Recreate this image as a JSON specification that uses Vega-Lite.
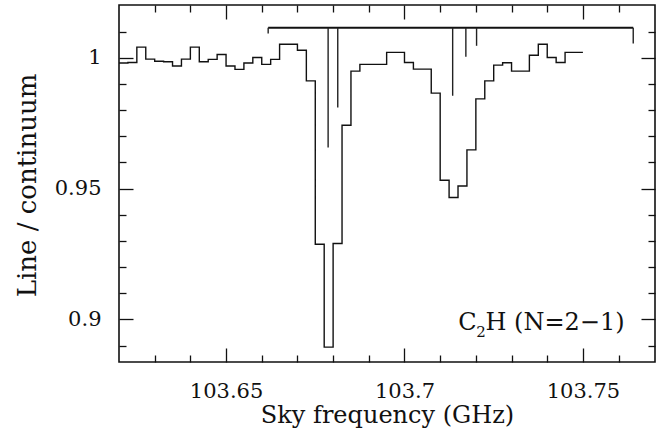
{
  "$schema": "https://vega.github.io/schema/vega-lite/v6.json",
  "width": 536,
  "height": 357,
  "autosize": {"type": "none"},
  "padding": {"left": 119, "top": 5, "right": 16, "bottom": 70},
  "background": "white",
  "config": {
    "view": {"stroke": "#111", "strokeWidth": 1.6},
    "axis": {
      "domain": false,
      "grid": false,
      "tickColor": "#111",
      "tickWidth": 1.3,
      "labelFont": "DejaVu Serif",
      "labelFontSize": 21,
      "labelColor": "#111",
      "labelFlush": false,
      "labelOverlap": false,
      "titleFont": "DejaVu Serif",
      "titleFontSize": 25,
      "titleFontWeight": "normal",
      "titleColor": "#111"
    }
  },
  "datasets": {
    "spectrum": [
      {"f": 103.62, "v": 0.998},
      {"f": 103.6225, "v": 0.9982},
      {"f": 103.625, "v": 1.0041},
      {"f": 103.6275, "v": 0.9995},
      {"f": 103.63, "v": 0.9987},
      {"f": 103.6325, "v": 0.9985},
      {"f": 103.635, "v": 0.9969},
      {"f": 103.6375, "v": 0.9995},
      {"f": 103.64, "v": 1.0041},
      {"f": 103.6425, "v": 0.9985},
      {"f": 103.645, "v": 0.9994},
      {"f": 103.6475, "v": 1.0013},
      {"f": 103.65, "v": 0.9969},
      {"f": 103.6525, "v": 0.9956},
      {"f": 103.655, "v": 0.998},
      {"f": 103.6575, "v": 1.0001},
      {"f": 103.66, "v": 0.9975},
      {"f": 103.6625, "v": 0.9994},
      {"f": 103.665, "v": 1.0052},
      {"f": 103.6675, "v": 1.0052},
      {"f": 103.67, "v": 1.0029},
      {"f": 103.6725, "v": 0.9912},
      {"f": 103.675, "v": 0.9287},
      {"f": 103.6775, "v": 0.8894},
      {"f": 103.68, "v": 0.929},
      {"f": 103.6825, "v": 0.9742},
      {"f": 103.685, "v": 0.9949},
      {"f": 103.6875, "v": 0.9975},
      {"f": 103.69, "v": 0.9975},
      {"f": 103.6925, "v": 0.9975},
      {"f": 103.695, "v": 1.0021},
      {"f": 103.6975, "v": 1.0021},
      {"f": 103.7, "v": 0.9982},
      {"f": 103.7025, "v": 0.9957},
      {"f": 103.705, "v": 0.9957},
      {"f": 103.7075, "v": 0.9865},
      {"f": 103.71, "v": 0.9532},
      {"f": 103.7125, "v": 0.9466},
      {"f": 103.715, "v": 0.951},
      {"f": 103.7175, "v": 0.9648},
      {"f": 103.72, "v": 0.9843},
      {"f": 103.7225, "v": 0.9912},
      {"f": 103.725, "v": 0.9972},
      {"f": 103.7275, "v": 0.9981},
      {"f": 103.73, "v": 0.9949},
      {"f": 103.7325, "v": 0.9949},
      {"f": 103.735, "v": 1.001},
      {"f": 103.7375, "v": 1.0052},
      {"f": 103.74, "v": 1.0001},
      {"f": 103.7425, "v": 0.9982},
      {"f": 103.745, "v": 1.0021},
      {"f": 103.7475, "v": 1.0021},
      {"f": 103.75, "v": 1.0021}
    ],
    "components": [
      {"f": 103.6618, "d": 1.0093},
      {"f": 103.6786, "d": 0.9657},
      {"f": 103.6813, "d": 0.981},
      {"f": 103.7135, "d": 0.9855},
      {"f": 103.7172, "d": 1.0004},
      {"f": 103.7202, "d": 1.0046},
      {"f": 103.7641, "d": 1.0055}
    ]
  },
  "resolve": {
    "scale": {"x": "shared", "y": "shared"},
    "axis": {"x": "independent", "y": "independent"}
  },
  "layer": [
    {
      "data": {"name": "spectrum"},
      "mark": {"type": "line", "interpolate": "step-after", "stroke": "#111", "strokeWidth": 1.4, "clip": true},
      "encoding": {
        "x": {
          "field": "f", "type": "quantitative",
          "scale": {"domain": [103.62, 103.7702], "nice": false, "zero": false},
          "axis": {
            "orient": "bottom", "values": [103.65, 103.7, 103.75], "format": ".2~f",
            "tickSize": -14, "labelPadding": 32,
            "title": "Sky frequency (GHz)", "titleFontSize": 24, "titleX": 268, "titleY": 60.5, "titleBaseline": "alphabetic", "titleAlign": "center"
          }
        },
        "y": {
          "field": "v", "type": "quantitative",
          "scale": {"domain": [0.8837, 1.0202], "nice": false, "zero": false},
          "axis": {
            "orient": "left", "values": [0.9, 0.95, 1], "format": ".2~f",
            "tickSize": -14, "labelPadding": 32,
            "title": "Line / continuum", "titleFontSize": 26, "titleX": -92, "titleY": 180, "titleAngle": 270,
            "titleAlign": "center", "titleBaseline": "middle"
          }
        }
      }
    },
    {
      "data": {"name": "components"},
      "mark": {"type": "rule", "stroke": "#111", "strokeWidth": 2},
      "encoding": {
        "x": {
          "aggregate": "min", "field": "f", "type": "quantitative",
          "scale": {"domain": [103.62, 103.7702], "nice": false, "zero": false},
          "axis": {
            "orient": "bottom",
            "values": [103.63, 103.64, 103.66, 103.67, 103.68, 103.69, 103.71, 103.72, 103.73, 103.74, 103.76],
            "tickSize": -7, "labels": false, "title": null
          }
        },
        "x2": {"aggregate": "max", "field": "f"},
        "y": {
          "datum": 1.0115, "type": "quantitative",
          "scale": {"domain": [0.8837, 1.0202], "nice": false, "zero": false},
          "axis": {
            "orient": "left",
            "values": [0.89, 0.91, 0.92, 0.93, 0.94, 0.96, 0.97, 0.98, 0.99, 1.01],
            "tickSize": -7, "labels": false, "title": null
          }
        }
      }
    },
    {
      "data": {"name": "components"},
      "mark": {"type": "rule", "stroke": "#222", "strokeWidth": 1.4},
      "encoding": {
        "x": {
          "field": "f", "type": "quantitative",
          "scale": {"domain": [103.62, 103.7702], "nice": false, "zero": false},
          "axis": {
            "orient": "top", "values": [103.65, 103.7, 103.75],
            "tickSize": -14, "labels": false, "title": null
          }
        },
        "y": {
          "field": "d", "type": "quantitative",
          "scale": {"domain": [0.8837, 1.0202], "nice": false, "zero": false},
          "axis": {
            "orient": "right", "values": [0.9, 0.95, 1],
            "tickSize": -14, "labels": false, "title": null
          }
        },
        "y2": {"datum": 1.0115}
      }
    },
    {
      "data": {"values": [{"label": "C"}]},
      "mark": {"type": "text", "align": "right", "baseline": "alphabetic", "font": "DejaVu Serif", "fontSize": 24, "color": "#111"},
      "encoding": {
        "x": {
          "datum": 103.7202, "type": "quantitative",
          "scale": {"domain": [103.62, 103.7702], "nice": false, "zero": false},
          "axis": {
            "orient": "top",
            "values": [103.63, 103.64, 103.66, 103.67, 103.68, 103.69, 103.71, 103.72, 103.73, 103.74, 103.76],
            "tickSize": -7, "labels": false, "title": null
          }
        },
        "y": {
          "datum": 0.8961, "type": "quantitative",
          "scale": {"domain": [0.8837, 1.0202], "nice": false, "zero": false},
          "axis": {
            "orient": "right",
            "values": [0.89, 0.91, 0.92, 0.93, 0.94, 0.96, 0.97, 0.98, 0.99, 1.01],
            "tickSize": -7, "labels": false, "title": null
          }
        },
        "text": {"field": "label"}
      }
    },
    {
      "data": {"values": [{"label": "2"}]},
      "mark": {"type": "text", "align": "left", "baseline": "alphabetic", "font": "DejaVu Serif", "fontSize": 15, "color": "#111"},
      "encoding": {
        "x": {"datum": 103.7201, "type": "quantitative", "scale": {"domain": [103.62, 103.7702], "nice": false, "zero": false}, "axis": null},
        "y": {"datum": 0.8932, "type": "quantitative", "scale": {"domain": [0.8837, 1.0202], "nice": false, "zero": false}, "axis": null},
        "text": {"field": "label"}
      }
    },
    {
      "data": {"values": [{"label": "H (N=2−1)"}]},
      "mark": {"type": "text", "align": "left", "baseline": "alphabetic", "font": "DejaVu Serif", "fontSize": 24, "color": "#111"},
      "encoding": {
        "x": {"datum": 103.7227, "type": "quantitative", "scale": {"domain": [103.62, 103.7702], "nice": false, "zero": false}, "axis": null},
        "y": {"datum": 0.8961, "type": "quantitative", "scale": {"domain": [0.8837, 1.0202], "nice": false, "zero": false}, "axis": null},
        "text": {"field": "label"}
      }
    }
  ]
}
